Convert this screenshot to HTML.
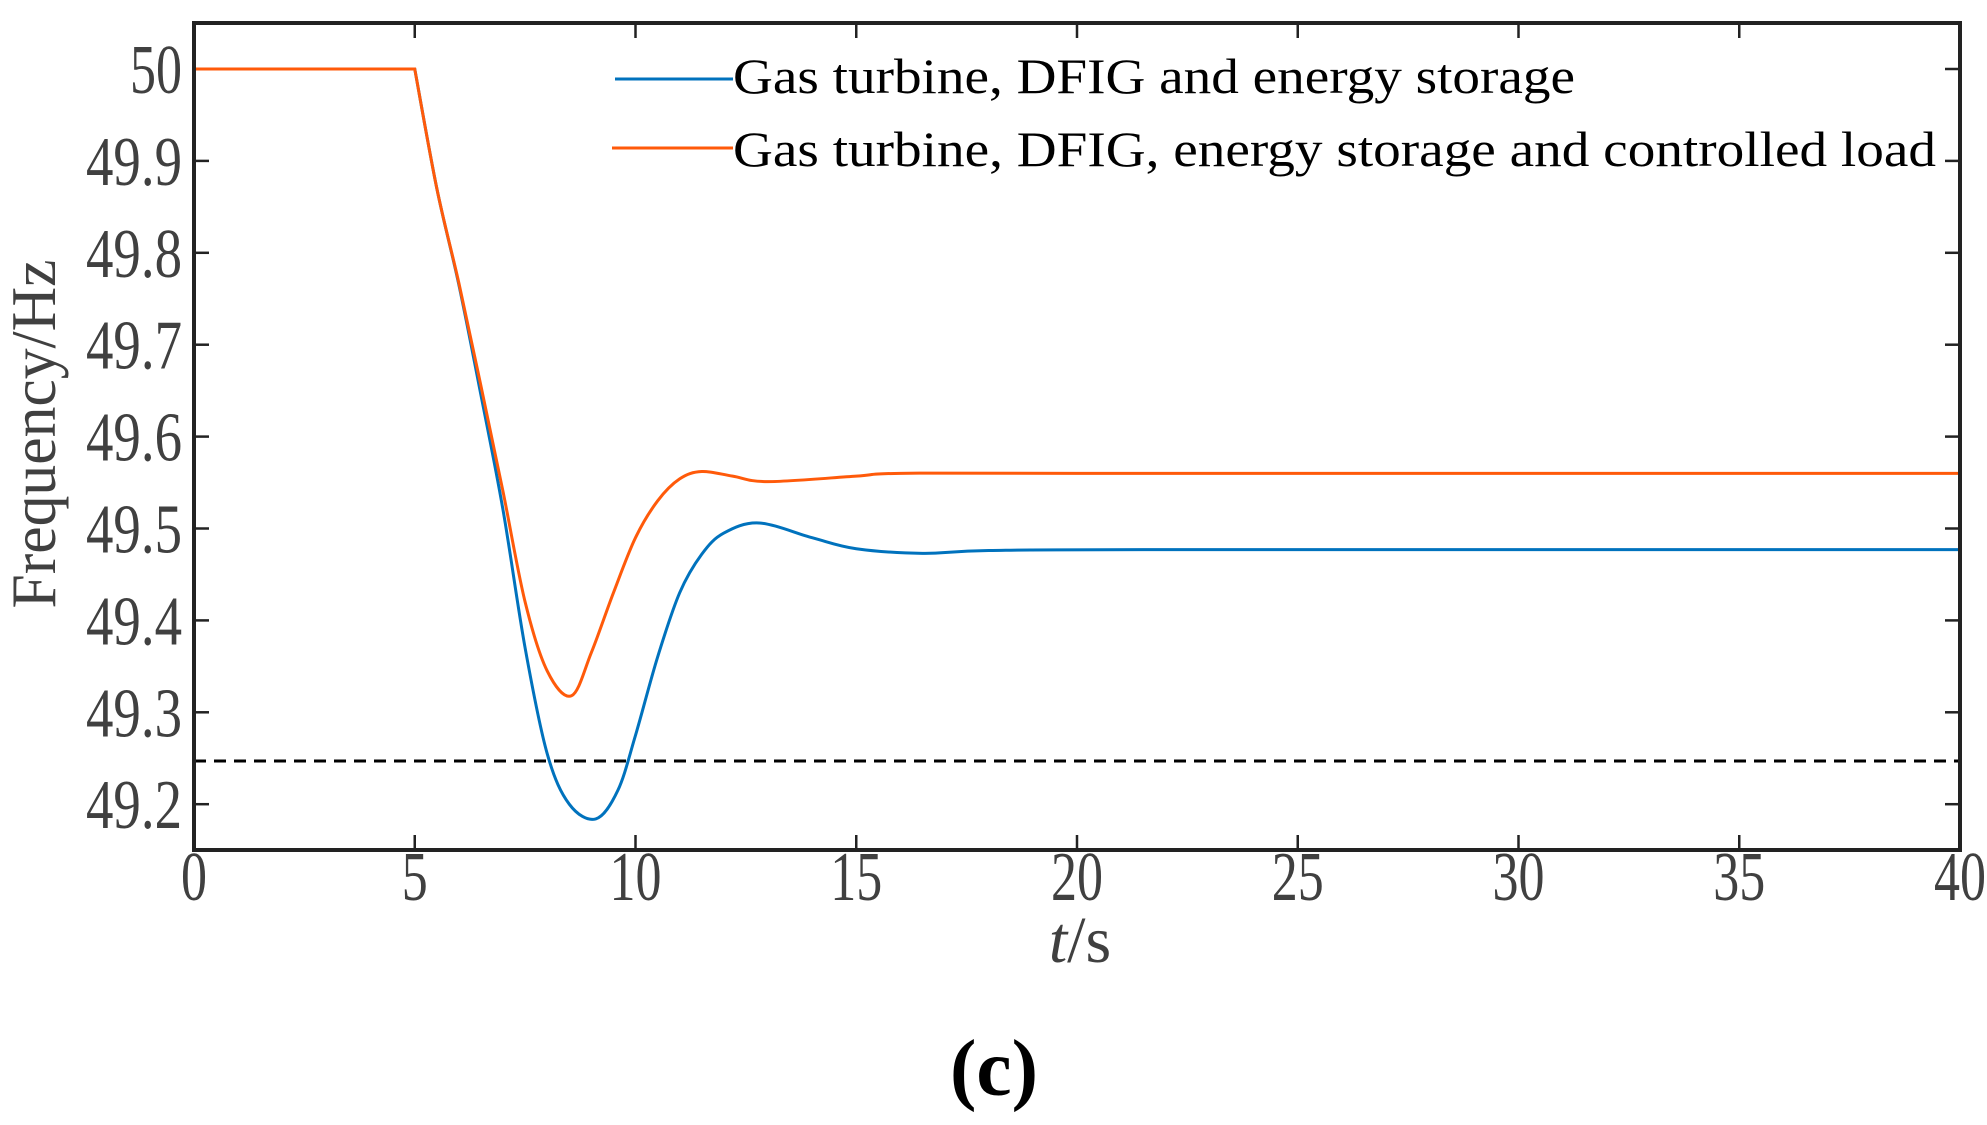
<!DOCTYPE html>
<html><head><meta charset="utf-8"><style>
html,body{margin:0;padding:0;background:#fff;}
svg{display:block;}
text{font-family:"Liberation Serif",serif;}
</style></head><body>
<svg id="s" width="1987" height="1125" viewBox="0 0 1987 1125" xmlns="http://www.w3.org/2000/svg">
<g id="grid"></g>
<line x1="194" y1="761" x2="1960" y2="761" stroke="#000" stroke-width="3" stroke-dasharray="12,8"/>
<path id="blue" fill="none" stroke="#0072BD" stroke-width="3"/>
<path id="orange" fill="none" stroke="#FF5A0A" stroke-width="3"/>
<rect x="194" y="23" width="1766" height="827" fill="none" stroke="#222" stroke-width="4"/>
<line x1="615" y1="79" x2="733" y2="79" stroke="#0072BD" stroke-width="3"/>
<line x1="612" y1="148" x2="733" y2="148" stroke="#FF5A0A" stroke-width="3"/>
<text x="733" y="93" font-size="50" textLength="842" lengthAdjust="spacingAndGlyphs">Gas turbine, DFIG and energy storage</text>
<text x="733" y="166" font-size="50" textLength="1203" lengthAdjust="spacingAndGlyphs">Gas turbine, DFIG, energy storage and controlled load</text>
<text transform="translate(55,434) rotate(-90)" text-anchor="middle" font-size="64" fill="#404040" textLength="349" lengthAdjust="spacingAndGlyphs">Frequency/Hz</text>
<text x="1080" y="962" text-anchor="middle" font-size="66" fill="#404040"><tspan font-style="italic">t</tspan>/s</text>
<text x="994" y="1095" text-anchor="middle" font-size="80" font-weight="bold" fill="#000" textLength="88" lengthAdjust="spacingAndGlyphs">(c)</text>
</svg>
<script>
var X0=194,X1=1960,Y50=69,DY=919;
function px(t){return X0+(X1-X0)*t/40;}
function py(v){return Y50+(50-v)*DY;}
function tl(s){var w=0;for(var i=0;i<s.length;i++)w+=(s[i]=='.'?18:26);return w;}
var g=document.getElementById('grid'),h='';
for(var t=0;t<=40;t+=5){var x=px(t);
 if(t>0&&t<40){h+='<line x1="'+x+'" y1="850" x2="'+x+'" y2="835" stroke="#222" stroke-width="2.5"/><line x1="'+x+'" y1="23" x2="'+x+'" y2="38" stroke="#222" stroke-width="2.5"/>';}
 h+='<text x="'+x+'" y="900" text-anchor="middle" font-size="70" fill="#404040" textLength="'+tl(''+t)+'" lengthAdjust="spacingAndGlyphs">'+t+'</text>';}
var vals=['50','49.9','49.8','49.7','49.6','49.5','49.4','49.3','49.2'];
for(var i=0;i<vals.length;i++){var y=py(parseFloat(vals[i]));
 h+='<line x1="194" y1="'+y+'" x2="209" y2="'+y+'" stroke="#222" stroke-width="2.5"/><line x1="1960" y1="'+y+'" x2="1945" y2="'+y+'" stroke="#222" stroke-width="2.5"/>';
 h+='<text x="182" y="'+(y+24)+'" text-anchor="end" font-size="70" fill="#404040" textLength="'+tl(vals[i])+'" lengthAdjust="spacingAndGlyphs">'+vals[i]+'</text>';}
g.innerHTML=h;
function path(pts){var p=pts.map(function(a){return [px(a[0]),py(a[1])];});
 var d='M'+p[0][0]+','+p[0][1]+' L'+p[1][0]+','+p[1][1];
 for(var i=1;i<p.length-1;i++){var p0=p[i-1],p1=p[i],p2=p[i+1],p3=p[i+2]||p2;
  if(i==1)p0=p1;
  d+=' C'+(p1[0]+(p2[0]-p0[0])/6)+','+(p1[1]+(p2[1]-p0[1])/6)+' '+(p2[0]-(p3[0]-p1[0])/6)+','+(p2[1]-(p3[1]-p1[1])/6)+' '+p2[0]+','+p2[1];}
 return d;}
var blue=[[0,50],[5,50],[5.5,49.87],[6,49.765],[6.5,49.645],[7,49.52],[7.5,49.37],[8,49.255],[8.5,49.2],[9.1,49.184],[9.6,49.215],[10,49.275],[10.5,49.36],[11,49.43],[11.5,49.472],[12,49.495],[12.8,49.506],[14,49.49],[15,49.478],[16.5,49.473],[18,49.476],[22,49.477],[40,49.477]];
var orange=[[0,50],[5,50],[5.5,49.87],[6,49.767],[6.5,49.655],[7,49.54],[7.5,49.42],[8,49.345],[8.55,49.318],[9,49.365],[9.5,49.43],[10,49.49],[10.5,49.53],[11,49.554],[11.5,49.562],[12.2,49.557],[13,49.551],[15,49.557],[16,49.56],[20,49.56],[40,49.56]];
document.getElementById('blue').setAttribute('d',path(blue));
document.getElementById('orange').setAttribute('d',path(orange));
</script>
</body></html>
